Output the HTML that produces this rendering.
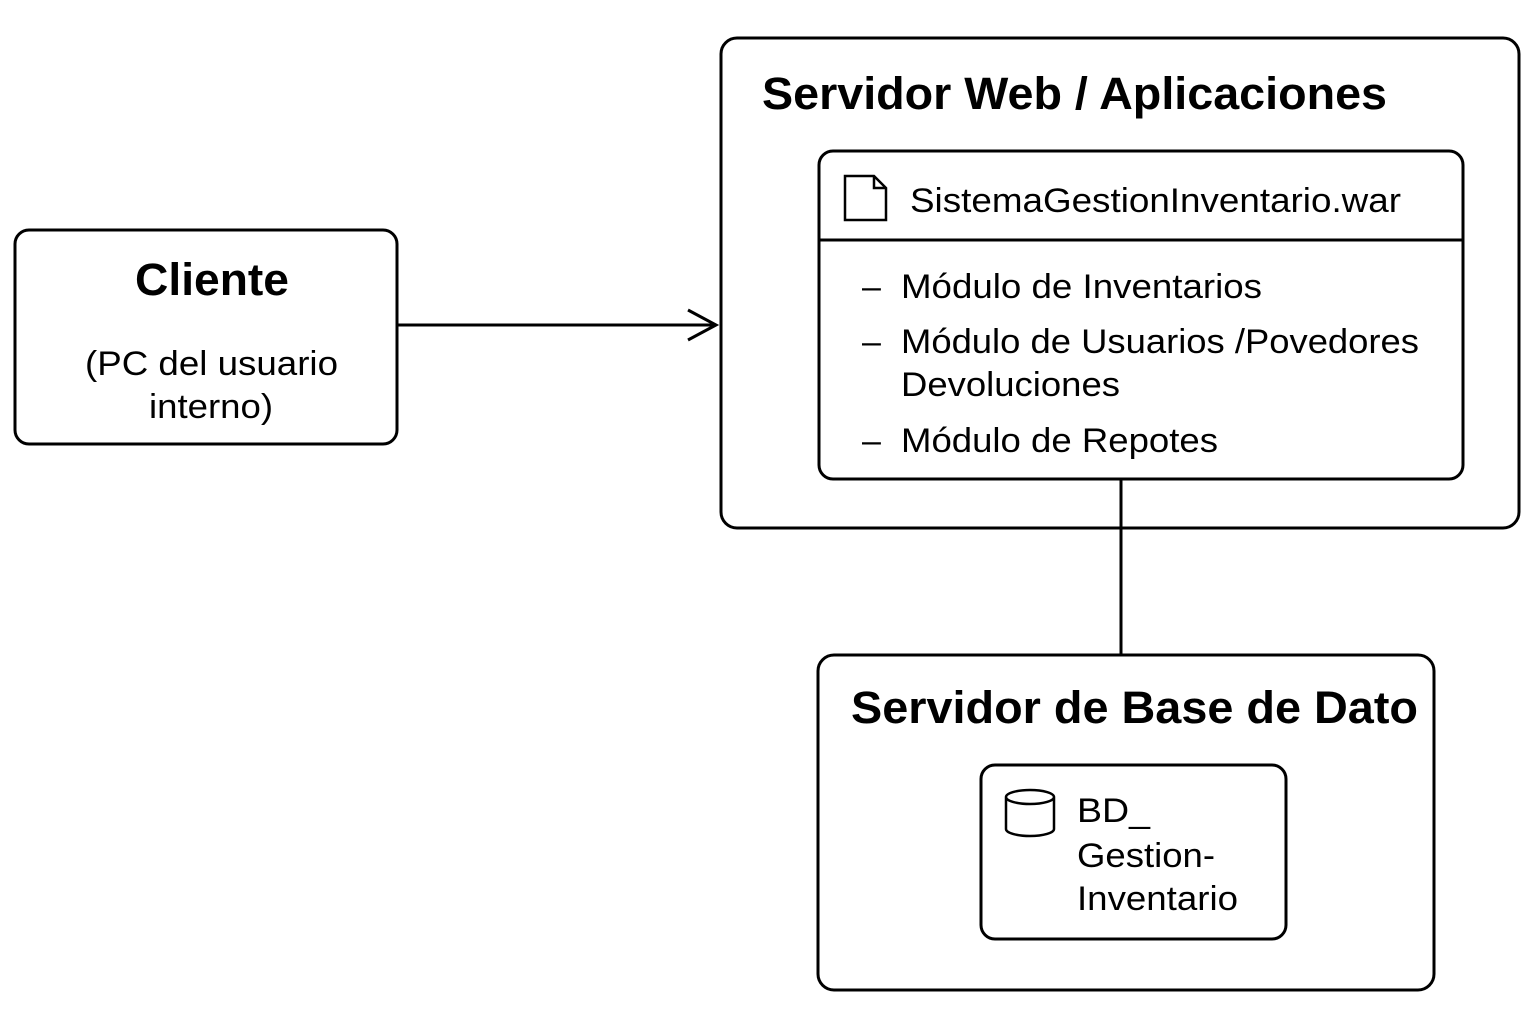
<!DOCTYPE html>
<html><head><meta charset="utf-8"><style>
html,body{margin:0;padding:0;background:#fff;}
svg{display:block;}
text{font-family:"Liberation Sans",sans-serif;fill:#000;}
</style></head><body>
<svg width="1536" height="1024" viewBox="0 0 1536 1024" xmlns="http://www.w3.org/2000/svg">
<g fill="none" stroke="#000" stroke-width="3">
<rect x="15" y="230" width="382" height="214" rx="14"/>
<rect x="721" y="38" width="798" height="490" rx="16"/>
<rect x="819" y="151" width="644" height="328" rx="14"/>
<line x1="819" y1="240" x2="1463" y2="240"/>
<rect x="818" y="655" width="616" height="335" rx="16"/>
<rect x="981" y="765" width="305" height="174" rx="14"/>
<line x1="397" y1="325" x2="716" y2="325"/>
<polyline points="688,310 716,325 688,340"/>
<line x1="1121" y1="479" x2="1121" y2="655"/>
<path d="M845,176 H874 L886,188 V220 H845 Z M874,176 V188 H886" stroke-width="2.5"/>
<path d="M1006,797 V829 A24,7 0 0 0 1054,829 V797 A24,7 0 0 0 1006,797 A24,7 0 0 0 1054,797" stroke-width="2.5"/>
</g>
<g lengthAdjust="spacingAndGlyphs">
<text x="135" y="295" font-size="45" font-weight="bold" textLength="154" lengthAdjust="spacingAndGlyphs">Cliente</text>
<text x="85" y="375" font-size="34" textLength="253" lengthAdjust="spacingAndGlyphs">(PC del usuario</text>
<text x="149" y="418" font-size="34" textLength="124" lengthAdjust="spacingAndGlyphs">interno)</text>
<text x="762" y="109" font-size="45" font-weight="bold" textLength="625" lengthAdjust="spacingAndGlyphs">Servidor Web / Aplicaciones</text>
<text x="910" y="212" font-size="34" textLength="491" lengthAdjust="spacingAndGlyphs">SistemaGestionInventario.war</text>
<text x="862" y="298" font-size="34">–</text>
<text x="901" y="298" font-size="34" textLength="361" lengthAdjust="spacingAndGlyphs">Módulo de Inventarios</text>
<text x="862" y="353" font-size="34">–</text>
<text x="901" y="353" font-size="34" textLength="518" lengthAdjust="spacingAndGlyphs">Módulo de Usuarios /Povedores</text>
<text x="901" y="396" font-size="34" textLength="219" lengthAdjust="spacingAndGlyphs">Devoluciones</text>
<text x="862" y="452" font-size="34">–</text>
<text x="901" y="452" font-size="34" textLength="317" lengthAdjust="spacingAndGlyphs">Módulo de Repotes</text>
<text x="851" y="723" font-size="45" font-weight="bold" textLength="567" lengthAdjust="spacingAndGlyphs">Servidor de Base de Dato</text>
<text x="1077" y="822" font-size="34" textLength="73" lengthAdjust="spacingAndGlyphs">BD_</text>
<text x="1077" y="867" font-size="34" textLength="138" lengthAdjust="spacingAndGlyphs">Gestion-</text>
<text x="1077" y="910" font-size="34" textLength="161" lengthAdjust="spacingAndGlyphs">Inventario</text>
</g>
</svg>
</body></html>
